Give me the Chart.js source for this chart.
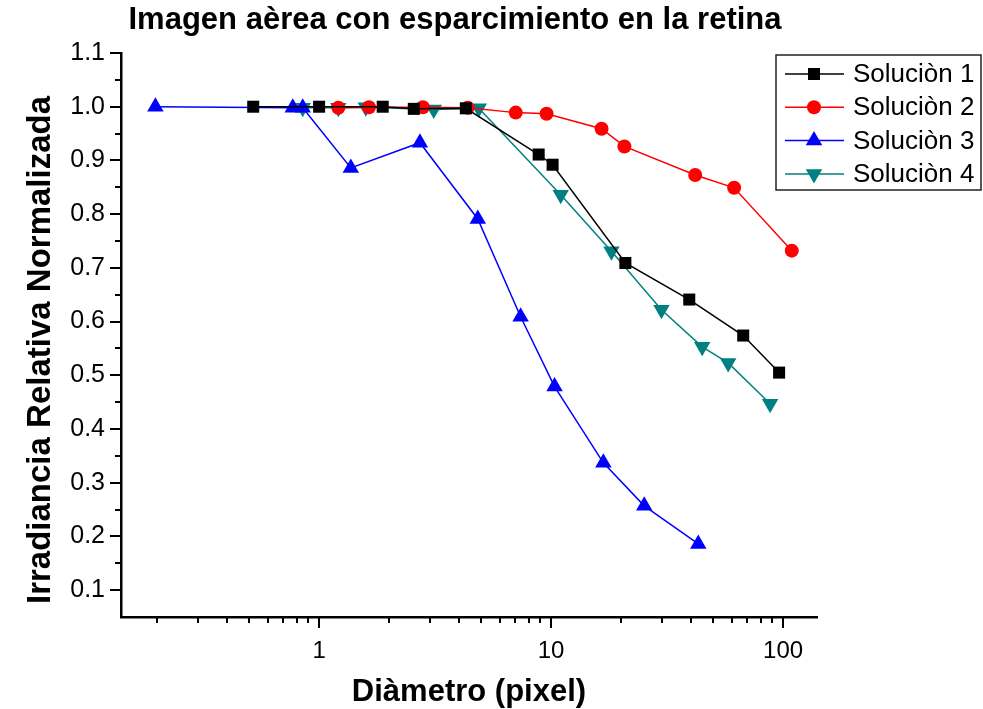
<!DOCTYPE html>
<html>
<head>
<meta charset="utf-8">
<script src="https://cdn.jsdelivr.net/npm/chart.js@4.4.1/dist/chart.umd.min.js"></script>
<style>
  html, body { margin:0; padding:0; background:#fff; }
  #wrap { width:983px; height:709px; position:relative; }
</style>
</head>
<body>
<div id="wrap"><canvas id="chart"></canvas></div>
<script>
// data
const seriesNames = ['Soluciòn 1', 'Soluciòn 2', 'Soluciòn 3', 'Soluciòn 4'];

const sol1X = [0.52, 1.0, 1.88, 2.56, 4.29, 8.84, 10.15, 20.9, 39.4, 67.3, 96.1];
const sol1Y = [1.0, 1.0, 1.0, 0.996, 0.997, 0.911, 0.892, 0.709, 0.641, 0.574, 0.505];

const sol2X = [1.21, 1.64, 2.8, 4.37, 7.04, 9.56, 16.5, 20.7, 41.8, 61.5, 109];
const sol2Y = [0.998, 0.999, 0.999, 0.998, 0.989, 0.987, 0.959, 0.926, 0.873, 0.849, 0.732];

const sol3X = [0.197, 0.77, 0.85, 1.37, 2.72, 4.83, 7.39, 10.35, 16.8, 25.2, 43.1];
const sol3Y = [1.0, 0.998, 0.998, 0.886, 0.933, 0.791, 0.609, 0.479, 0.337, 0.257, 0.186];

const sol4X = [0.85, 1.21, 1.59, 3.12, 4.88, 11.0, 18.2, 29.9, 44.8, 58.0, 87.9];
const sol4Y = [0.998, 0.998, 0.999, 0.995, 0.997, 0.836, 0.731, 0.622, 0.553, 0.523, 0.447];

const xMajorTicks = [1, 10, 100];
const xMinorTicks = [0.2,0.3,0.4,0.5,0.6,0.7,0.8,0.9, 2,3,4,5,6,7,8,9, 20,30,40,50,60,70,80,90];
const yMajorTicks = [0.1,0.2,0.3,0.4,0.5,0.6,0.7,0.8,0.9,1.0,1.1];
const yMinorTicks = [0.15,0.25,0.35,0.45,0.55,0.65,0.75,0.85,0.95,1.05];

const FONT = "'Liberation Sans', Arial, sans-serif";

function pts(xs, ys){ return xs.map((x, i) => ({x, y: ys[i]})); }

const styles = [
  {color:'#000000', pointStyle:'rect',     radius:8.5, rotation:0},
  {color:'#ff0000', pointStyle:'circle',   radius:7,   rotation:0},
  {color:'#0000ff', pointStyle:'triangle', radius:9.5, rotation:0},
  {color:'#008080', pointStyle:'triangle', radius:9.5, rotation:180}
];
const allData = [pts(sol1X, sol1Y), pts(sol2X, sol2Y), pts(sol3X, sol3Y), pts(sol4X, sol4Y)];

const datasets = allData.map((d, i) => ({
  label: seriesNames[i],
  data: d,
  showLine: true,
  borderColor: styles[i].color,
  backgroundColor: styles[i].color,
  borderWidth: 1.5,
  pointStyle: styles[i].pointStyle,
  pointRadius: styles[i].radius,
  pointRotation: styles[i].rotation,
  pointBorderWidth: 0,
  pointBackgroundColor: styles[i].color,
  tension: 0,
  clip: false
}));

// ticks, titles and the boxed legend
const decor = {
  id: 'decor',
  afterDraw(chart){
    const {ctx, chartArea:a, scales:{x, y}} = chart;
    ctx.save();
    ctx.strokeStyle = '#000';
    ctx.lineWidth = 2;
    ctx.beginPath();
    yMajorTicks.forEach(v => { const p = Math.round(y.getPixelForValue(v)); ctx.moveTo(a.left, p); ctx.lineTo(a.left - 11, p); });
    yMinorTicks.forEach(v => { const p = Math.round(y.getPixelForValue(v)); ctx.moveTo(a.left, p); ctx.lineTo(a.left - 6, p); });
    xMajorTicks.forEach(v => { const p = Math.round(x.getPixelForValue(v)); ctx.moveTo(p, a.bottom); ctx.lineTo(p, a.bottom + 11); });
    xMinorTicks.forEach(v => { const p = Math.round(x.getPixelForValue(v)); ctx.moveTo(p, a.bottom); ctx.lineTo(p, a.bottom + 6); });
    ctx.stroke();

    ctx.fillStyle = '#000';
    ctx.textAlign = 'center';
    ctx.textBaseline = 'alphabetic';
    ctx.font = 'bold 31px ' + FONT;
    ctx.fillText('Imagen aèrea con esparcimiento en la retina', 455, 29);
    ctx.fillText('Diàmetro (pixel)', (a.left + a.right) / 2, 701);
    ctx.save();
    ctx.translate(50, 350);
    ctx.rotate(-Math.PI / 2);
    ctx.font = 'bold 33px ' + FONT;
    ctx.fillText('Irradiancia Relativa Normalizada', 0, 0);
    ctx.restore();

    // legend
    const lx = 776, ly = 55, lw = 205, lh = 135;
    ctx.lineWidth = 1.5;
    ctx.strokeStyle = '#222';
    ctx.strokeRect(lx, ly, lw, lh);
    ctx.font = '26px ' + FONT;
    ctx.textAlign = 'left';
    ctx.textBaseline = 'middle';
    datasets.forEach((ds, i) => {
      const cy = 74 + i * 33.3;
      ctx.strokeStyle = ds.borderColor;
      ctx.lineWidth = 1.5;
      ctx.beginPath(); ctx.moveTo(785, cy); ctx.lineTo(844, cy); ctx.stroke();
      ctx.fillStyle = ds.borderColor;
      Chart.helpers.drawPoint(ctx, {pointStyle: ds.pointStyle, radius: ds.pointRadius, rotation: ds.pointRotation, borderWidth: 0}, 814, cy);
      ctx.fillStyle = '#000';
      ctx.fillText(ds.label, 853, cy + 1);
    });
    ctx.restore();
  }
};

window.addEventListener('DOMContentLoaded', () => {
  new Chart(document.getElementById('chart'), {
    type: 'scatter',
    data: { datasets },
    options: {
      responsive: true,
      maintainAspectRatio: false,
      animation: false,
      layout: { padding: { top: 53, right: 166, left: 0, bottom: 0 } },
      plugins: { legend: { display: false }, tooltip: { enabled: false } },
      scales: {
        x: {
          type: 'logarithmic', min: 0.14, max: 140,
          afterFit: s => { s.height = 92; },
          afterBuildTicks: s => { s.ticks = xMajorTicks.map(v => ({value: v})); },
          ticks: { color: '#000', font: { size: 24, family: FONT }, padding: 20, maxRotation: 0, autoSkip: false,
                   callback: v => String(v) },
          grid: { display: false, drawTicks: false },
          border: { display: true, color: '#000', width: 2.5 }
        },
        y: {
          min: 0.05, max: 1.1,
          afterFit: s => { s.width = 121; },
          afterBuildTicks: s => { s.ticks = yMajorTicks.map(v => ({value: v})); },
          ticks: { color: '#000', font: { size: 25, family: FONT }, padding: 16, autoSkip: false,
                   callback: v => Number(v).toFixed(1) },
          grid: { display: false, drawTicks: false },
          border: { display: true, color: '#000', width: 2.5 }
        }
      }
    },
    plugins: [decor]
  });
});
</script>
</body>
</html>
